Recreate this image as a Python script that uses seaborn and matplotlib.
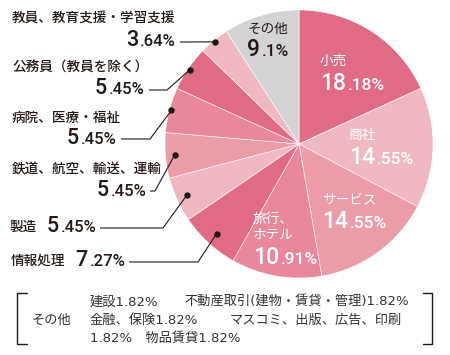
import numpy as np
import matplotlib
matplotlib.use("Agg")
from matplotlib import pyplot as plt
from matplotlib.offsetbox import TextArea, HPacker, AnnotationBbox
import seaborn as sns

# industries, clockwise from 12 o'clock
industries = ["小売", "商社", "サービス", "旅行、\nホテル", "情報処理", "製造",
              "鉄道、航空、輸送、運輸", "病院、医療・福祉", "公務員（教員を除く）",
              "教員、教育支援・学習支援", "その他"]
shares = [18.18, 14.55, 14.55, 10.91, 7.27, 5.45, 5.45, 5.45, 5.45, 3.64, 9.1]
share_labels = ["18.18%", "14.55%", "14.55%", "10.91%", "7.27%", "5.45%",
                "5.45%", "5.45%", "5.45%", "3.64%", "9.1%"]

# breakdown of the "その他" slice (bottom note)
other_title = "その他"
other_lines = [["建設1.82%", "不動産取引(建物・賃貸・管理)1.82%"],
               ["金融、保険1.82%", "マスコミ、出版、広告、印刷"],
               ["1.82%　物品賃貸1.82%"]]

dark = "#e16a84"
light = "#f0b9c1"
mid = "#eb9ca7"
mid2 = "#e8889a"
grey = "#d3d3d5"
colors = [dark, light, mid, mid2, dark, light, mid, mid2, dark, light, grey]
ink = "#231815"

sns.set_theme(style="white")
plt.rcParams["font.family"] = ["Noto Sans CJK JP", "DejaVu Sans"]
NUMFONT = ["Roboto", "Noto Sans CJK JP"]
NOTEFONT = ["DejaVu Sans", "Noto Sans CJK JP"]

fig = plt.figure(figsize=(4.5, 3.55), dpi=100)
ax = fig.add_axes([0, 0, 1, 1])

cx, cy, R = 299, 144, 134
# y axis is flipped below, so counterclock in data = clockwise on screen
wedges, _ = ax.pie(shares, colors=colors, startangle=-90, counterclock=True,
                   radius=R, center=(cx, cy),
                   wedgeprops=dict(edgecolor="white", linewidth=0.4))
ax.set_xlim(0, 450)
ax.set_ylim(355, 0)
ax.set_aspect("auto")
ax.axis("off")


def num_box(s, big, small, color):
    ip, rest = s.split(".")
    kw = dict(color=color, family=NUMFONT, fontweight="medium")
    kids = [TextArea(ip, textprops=dict(fontsize=big, **kw)),
            TextArea("." + rest, textprops=dict(fontsize=small, **kw))]
    return HPacker(children=kids, align="baseline", pad=0, sep=1.5)


def put_num(s, xy, align, color, big=15.5, small=12):
    ab = AnnotationBbox(num_box(s, big, small, color), xy, xycoords="data",
                        box_alignment=(align, 0.5), frameon=False, pad=0,
                        annotation_clip=False)
    ax.add_artist(ab)


# labels inside the pie: (name pos, number pos)
inside = {0: ((320, 61), (320, 83)),
          1: ((348, 135), (349, 157)),
          2: ((322, 200), (322, 221)),
          3: ((253, 227), (253, 257)),
          10: ((248, 29), (247, 50))}
for i, (npos, vpos) in inside.items():
    c = ink if i == 10 else "white"
    ax.text(npos[0], npos[1], industries[i], fontsize=9.8, color=c,
            ha="left", va="center", linespacing=1.15)
    put_num(share_labels[i], vpos, 0, c, big=16.5, small=12.5)

# labels outside: name pos, number right end, line y, line start x, elbow x, dot radius
outside = {9: ((12, 18), (176, 41), 42, 180, None, 0.985),
           8: ((12, 68), (145, 89), 90, 149, 167, 0.985),
           7: ((12, 118), (117, 138), 139, 121, 150, 0.985),
           6: ((12, 169), (147, 190), 191, 150, 155, 0.93),
           5: ((10, 227), (97, 227), 228, 100, 163, 0.92),
           4: ((11, 261), (126, 261), 262, 129, 198, 0.91)}
for i, (npos, vpos, ly, x0, xe, rf) in outside.items():
    ax.text(npos[0], npos[1], industries[i], fontsize=9.8, color=ink,
            ha="left", va="center", fontweight="medium")
    put_num(share_labels[i], vpos, 1, ink)
    w = wedges[i]
    th = np.deg2rad((w.theta1 + w.theta2) / 2)
    dx, dy = cx + rf * R * np.cos(th), cy + rf * R * np.sin(th)
    if xe is None:
        xs, ys = [x0, dx], [ly, dy]
    else:
        xs, ys = [x0, xe, dx], [ly, ly, dy]
    ax.plot(xs, ys, color=ink, lw=0.8, solid_capstyle="butt")
    ax.plot([dx], [dy], "o", color=ink, ms=3.6)

# bracketed note at the bottom
ax.plot([27, 17, 17, 27], [293, 293, 344, 344], color=ink, lw=1)
ax.plot([423, 432, 432, 423], [293, 293, 344, 344], color=ink, lw=1)
ax.text(32, 320, other_title, fontsize=9.5, color="#333333", ha="left", va="center")
line_y = [302, 320, 338]
second_x = [184, 230]
for k, parts in enumerate(other_lines):
    ax.text(90, line_y[k], parts[0], fontsize=9.5, color="#333333", ha="left",
            va="center", family=NOTEFONT)
    if len(parts) > 1:
        ax.text(second_x[k], line_y[k], parts[1], fontsize=9.5, color="#333333",
                ha="left", va="center", family=NOTEFONT)

fig.savefig("out.png", dpi=100)
